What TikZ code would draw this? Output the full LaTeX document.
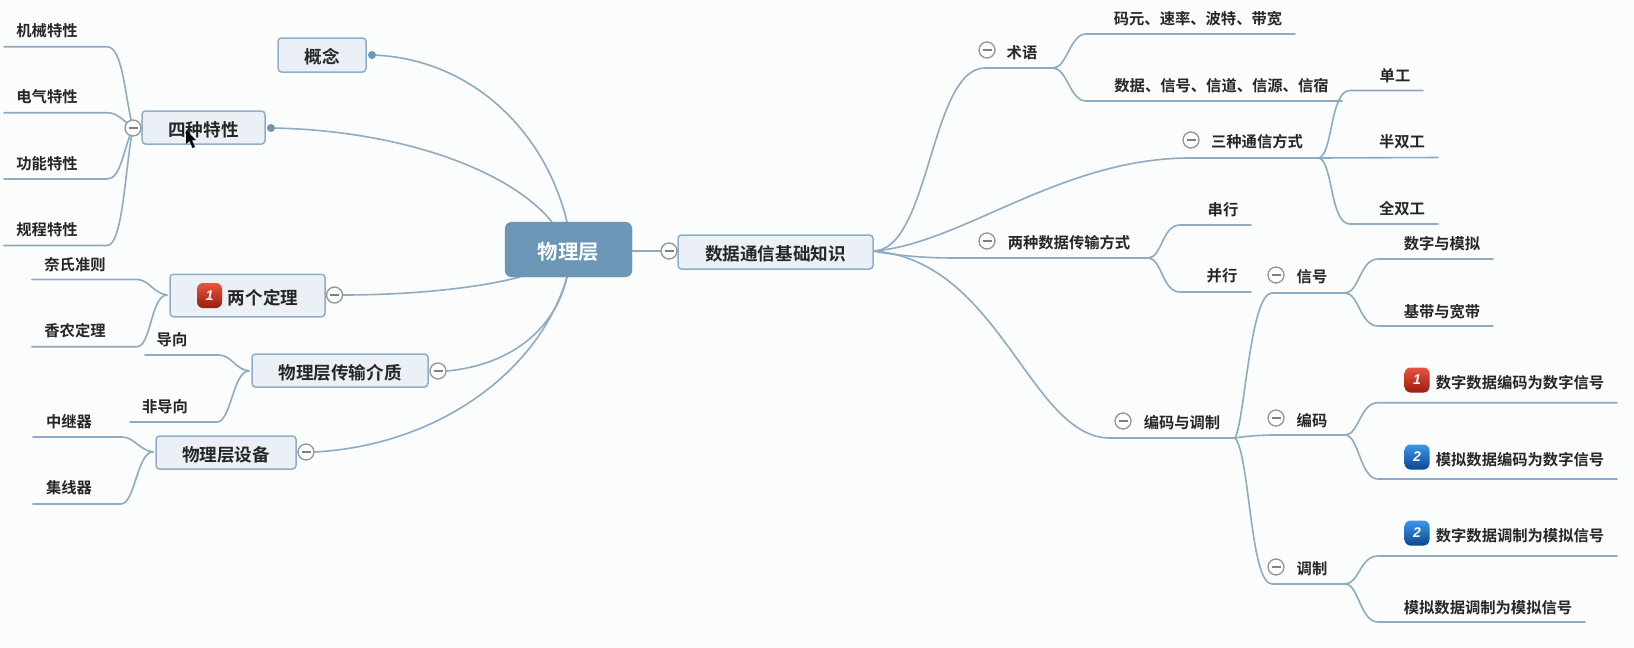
\documentclass[tikz,border=0pt]{standalone}
\usepackage{fontspec}
\setmainfont[BoldFont={Noto Sans CJK SC Bold}]{Noto Sans CJK SC}
\newfontfamily\badgefont{Liberation Sans}
\newcommand{\lowertxt}[1]{\raisebox{-2pt}[.88em][.12em]{\bfseries #1}}
\definecolor{bgc}{HTML}{FBFCFC}
\definecolor{linec}{HTML}{8DABC2}
\definecolor{boxl}{HTML}{EAF0F6}
\definecolor{boxd}{HTML}{8FAEC9}
\definecolor{centre}{HTML}{6B96B6}
\definecolor{ink}{HTML}{262626}
\definecolor{redt}{HTML}{E8553F}
\definecolor{redm}{HTML}{D6301F}
\definecolor{redb}{HTML}{9A1B10}
\definecolor{blut}{HTML}{3C98EA}
\definecolor{blum}{HTML}{1A70D8}
\definecolor{blub}{HTML}{0C4690}
\tikzset{
  conn/.style={draw=linec,line width=1.6pt,line cap=round},
  leaf/.style={inner sep=0pt,text=ink,yshift=-1pt,font=\fontsize{15.3pt}{16pt}\selectfont\bfseries},
  topic/.style={draw=boxd,fill=boxl,line width=1.5pt,rounded corners=3.5pt,inner sep=0pt,text=ink,anchor=center,font=\fontsize{17.6pt}{18pt}\selectfont},
  root/.style={fill=centre,draw=centre,rounded corners=7pt,inner sep=0pt,text=white,font=\fontsize{20.4pt}{21pt}\selectfont},
  fold/.style={circle,draw=black!42,fill=bgc,line width=1.3pt,minimum size=16pt,inner sep=0pt,
    path picture={\draw[black!50,line width=1.2pt] ([xshift=-4.5pt]path picture bounding box.center) -- ([xshift=4.5pt]path picture bounding box.center);}},
  pin/.style={circle,fill=centre,minimum size=8pt,inner sep=0pt},
  badge/.style={rounded corners=6pt,minimum size=25pt,inner sep=0pt,text=white,font=\badgefont\fontsize{14pt}{14pt}\selectfont\bfseries\itshape},
  redbadge/.style={badge,top color=redt,middle color=redm,bottom color=redb},
  bluebadge/.style={badge,top color=blut,middle color=blum,bottom color=blub}
}
\begin{document}
\begin{tikzpicture}[x=1pt,y=-1pt]
\useasboundingbox[fill=bgc] (0,0) rectangle (1634,648);
% ---------- named coordinates
\coordinate (kJ) at (133,128);
\coordinate (ka) at (107,46.7);  \coordinate (ka0) at (4,46.7);
\coordinate (kb) at (107,112.7); \coordinate (kb0) at (4,112.7);
\coordinate (kc) at (107,179);   \coordinate (kc0) at (4,179);
\coordinate (kd) at (107,245.5); \coordinate (kd0) at (4,245.5);
\coordinate (da) at (137,279.5); \coordinate (da0) at (32,279.5);
\coordinate (db) at (137,346.7); \coordinate (db0) at (32,346.7);
\coordinate (dJ) at (167,295);
\coordinate (ma) at (219,355);   \coordinate (ma0) at (145,355);
\coordinate (mb) at (217,422);   \coordinate (mb0) at (130,422);
\coordinate (mJ) at (249,371);
\coordinate (sa) at (122,437);   \coordinate (sa0) at (33,437);
\coordinate (sb) at (121,504);   \coordinate (sb0) at (33,504);
\coordinate (sJ) at (153,452);
\coordinate (rT) at (567,222);
\coordinate (rS) at (552,222);
\coordinate (rL) at (520,277);
\coordinate (rB) at (567,277);
\coordinate (p1) at (372,55);
\coordinate (p2) at (271,128);
\coordinate (p3) at (343,295);
\coordinate (p4) at (447,371);
\coordinate (p5) at (315,452);
% right side
\coordinate (J0) at (873,251);
\coordinate (ty) at (985,68);    \coordinate (tyJ) at (1053,68);
\coordinate (tya) at (1086,34);  \coordinate (tya0) at (1295,34);
\coordinate (tyb) at (1086,101); \coordinate (tyb0) at (1342,101);
\coordinate (sz) at (1190,158);  \coordinate (szJ) at (1319,158);
\coordinate (sza) at (1350,90.5); \coordinate (sza0) at (1423,90.5);
\coordinate (szb0) at (1438,157.5);
\coordinate (szc) at (1350,224); \coordinate (szc0) at (1438,224);
\coordinate (lz) at (955,258);   \coordinate (lzJ) at (1148,258);
\coordinate (lza) at (1180,225); \coordinate (lza0) at (1251,225);
\coordinate (lzb) at (1180,292); \coordinate (lzb0) at (1251,292);
\coordinate (bm) at (1110,438);  \coordinate (bmJ) at (1235,438);
\coordinate (xh) at (1272,293);  \coordinate (xhJ) at (1345,293);
\coordinate (xha) at (1378,259); \coordinate (xha0) at (1493,259);
\coordinate (xhb) at (1378,326); \coordinate (xhb0) at (1493,326);
\coordinate (bc) at (1275,435);  \coordinate (bcJ) at (1345,435);
\coordinate (bca) at (1378,402.7); \coordinate (bca0) at (1617,402.7);
\coordinate (bcb) at (1378,479); \coordinate (bcb0) at (1617,479);
\coordinate (tz) at (1272,584);  \coordinate (tzJ) at (1345,584);
\coordinate (tza) at (1378,556); \coordinate (tza0) at (1617,556);
\coordinate (tzb) at (1378,622); \coordinate (tzb0) at (1585,622);
% ---------- connectors
\draw[conn] (p1) .. controls (470,58) and (545,130) .. (rT);
\draw[conn] (p2) .. controls (400,130) and (510,170) .. (rS);
\draw[conn] (p3) .. controls (400,295) and (470,290) .. (rL);
\draw[conn] (p4) .. controls (510,365) and (555,330) .. (rB);
\draw[conn] (p5) .. controls (440,445) and (540,370) .. (rB);
\draw[conn] (ka0) -- (ka) .. controls +(16,0) and +(-8,-30) .. (kJ);
\draw[conn] (kb0) -- (kb) .. controls +(10,0) and +(-10,-8) .. (kJ);
\draw[conn] (kc0) -- (kc) .. controls +(14,0) and +(-10,22) .. (kJ);
\draw[conn] (kd0) -- (kd) .. controls +(16,0) and +(-8,40) .. (kJ);
\draw[conn] (da0) -- (da) .. controls +(12,0) and +(-14,-2) .. (dJ);
\draw[conn] (db0) -- (db) .. controls +(14,0) and +(-16,0) .. (dJ);
\draw[conn] (ma0) -- (ma) .. controls +(12,0) and +(-14,-2) .. (mJ);
\draw[conn] (mb0) -- (mb) .. controls +(14,0) and +(-16,0) .. (mJ);
\draw[conn] (sa0) -- (sa) .. controls +(12,0) and +(-14,-2) .. (sJ);
\draw[conn] (sb0) -- (sb) .. controls +(14,0) and +(-16,0) .. (sJ);
% right
\draw[conn] (J0) .. controls (930,251) and (930,68) .. (ty) -- (tyJ);
\draw[conn] (tyJ) .. controls +(14,0) and +(-16,0) .. (tya) -- (tya0);
\draw[conn] (tyJ) .. controls +(14,0) and +(-16,0) .. (tyb) -- (tyb0);
\draw[conn] (J0) .. controls (960,245) and (1060,158) .. (sz) -- (szJ);
\draw[conn] (szJ) .. controls +(14,-4) and +(-20,0) .. (sza) -- (sza0);
\draw[conn] (szJ) -- (szb0);
\draw[conn] (szJ) .. controls +(14,4) and +(-20,0) .. (szc) -- (szc0);
\draw[conn] (J0) .. controls (900,256) and (925,258) .. (lz) -- (lzJ);
\draw[conn] (lzJ) .. controls +(14,0) and +(-18,0) .. (lza) -- (lza0);
\draw[conn] (lzJ) .. controls +(14,0) and +(-18,0) .. (lzb) -- (lzb0);
\draw[conn] (J0) .. controls (1000,260) and (1030,438) .. (bm) -- (bmJ);
\draw[conn] (bmJ) .. controls (1245,420) and (1250,293) .. (xh) -- (xhJ);
\draw[conn] (xhJ) .. controls +(14,0) and +(-18,0) .. (xha) -- (xha0);
\draw[conn] (xhJ) .. controls +(14,0) and +(-18,0) .. (xhb) -- (xhb0);
\draw[conn] (bmJ) .. controls +(12,-2) and +(-14,0) .. (bc) -- (bcJ);
\draw[conn] (bcJ) .. controls +(14,0) and +(-18,0) .. (bca) -- (bca0);
\draw[conn] (bcJ) .. controls +(14,0) and +(-18,0) .. (bcb) -- (bcb0);
\draw[conn] (bmJ) .. controls (1250,455) and (1250,584) .. (tz) -- (tzJ);
\draw[conn] (tzJ) .. controls +(14,0) and +(-18,0) .. (tza) -- (tza0);
\draw[conn] (tzJ) .. controls +(14,0) and +(-18,0) .. (tzb) -- (tzb0);
% ---------- topic boxes
\node[root,minimum width=127pt,minimum height=55pt] (wl) at (568.5,249.5) {\lowertxt{物理层}};
\node[topic,minimum width=195pt,minimum height=34pt] (sj) at (775.5,252) {\lowertxt{数据通信基础知识}};
\node[topic,minimum width=88pt,minimum height=34pt] (gn) at (322,55) {\lowertxt{概念}};
\node[topic,minimum width=123pt,minimum height=33pt] (sz4) at (203.5,127.5) {\lowertxt{四种特性}};
\node[topic,minimum width=155pt,minimum height=42.5pt] (dl) at (247.5,295.5) {};
\node[topic,minimum width=176pt,minimum height=33pt] (jz) at (340,370.5) {\lowertxt{物理层传输介质}};
\node[topic,minimum width=140pt,minimum height=33pt] (sb) at (226,452.5) {\lowertxt{物理层设备}};
\node[topic,draw=none,fill=none] (dlt) at (263,295.5) {\lowertxt{两个定理}};
% connector from root to first topic
\draw[conn] (wl.east |- sj.west) ++(0,-1) coordinate (q) -- (sj.west |- q);
% ---------- fold marks and pins
\node[fold] (f1) at (133,128) {};
\node[fold] (f2) at (334.5,295) {};
\node[fold] (f3) at (438,371) {};
\node[fold] (f4) at (306,452) {};
\node[fold] (f5) at (669,251) {};
\node[fold] (f6) at (987,50) {};
\node[fold] (f7) at (1191,140) {};
\node[fold] (f8) at (987,241) {};
\node[fold] (f9) at (1123,421) {};
\node[fold] (f10) at (1276,275) {};
\node[fold] (f11) at (1276,418) {};
\node[fold] (f12) at (1276,567) {};
\node[pin] (pa) at (p1) {};
\node[pin] (pb) at (p2) {};
% ---------- text
\node[leaf] (t1) at (47,30) {机械特性};
\node[leaf] (t2) at (47,96) {电气特性};
\node[leaf] (t3) at (47,163) {功能特性};
\node[leaf] (t4) at (47,229) {规程特性};
\node[leaf] (t5) at (75,264) {奈氏准则};
\node[leaf] (t6) at (75,330) {香农定理};
\node[leaf] (t7) at (172,339) {导向};
\node[leaf] (t8) at (165,406) {非导向};
\node[leaf] (t9) at (69,421) {中继器};
\node[leaf] (t10) at (69,487) {集线器};
\node[leaf] (r1) at (1022,52) {术语};
\node[leaf] (r2) at (1198,18) {码元、速率、波特、带宽};
\node[leaf] (r3) at (1221.5,85) {数据、信号、信道、信源、信宿};
\node[leaf] (r4) at (1257,141) {三种通信方式};
\node[leaf] (r5) at (1395,75) {单工};
\node[leaf] (r6) at (1402,141) {半双工};
\node[leaf] (r7) at (1402,208) {全双工};
\node[leaf] (r8) at (1069,242) {两种数据传输方式};
\node[leaf] (r9) at (1223,209) {串行};
\node[leaf] (r10) at (1222,275) {并行};
\node[leaf] (r11) at (1182,422) {编码与调制};
\node[leaf] (r12) at (1312,276) {信号};
\node[leaf] (r13) at (1442,243) {数字与模拟};
\node[leaf] (r14) at (1442,311) {基带与宽带};
\node[leaf] (r15) at (1312,420) {编码};
\node[leaf] (r16) at (1520,382) {数字数据编码为数字信号};
\node[leaf] (r17) at (1520,459) {模拟数据编码为数字信号};
\node[leaf] (r18) at (1312,568) {调制};
\node[leaf] (r19) at (1520,535) {数字数据调制为模拟信号};
\node[leaf] (r20) at (1488,607) {模拟数据调制为模拟信号};
% ---------- priority badges
\node[redbadge] (b1) at (209.5,295.5) {1};
\node[redbadge] (b2) at (1417,380) {1};
\node[bluebadge] (b3) at (1417,457) {2};
\node[bluebadge] (b4) at (1417,533) {2};
% ---------- mouse pointer
\fill[black] (186,130) -- (186,144) -- (189.5,141) -- (192.5,148) -- (195,147) -- (192,140.5) -- (196,140) -- cycle;
\end{tikzpicture}
\end{document}
